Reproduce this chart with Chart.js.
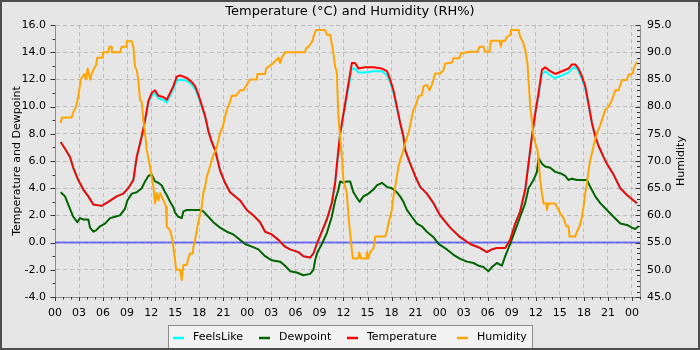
<!DOCTYPE html>
<html>
<head>
<meta charset="utf-8">
<script src="https://cdn.jsdelivr.net/npm/chart.js@4.4.1/dist/chart.umd.min.js"></script>
<style>
  html, body { margin: 0; padding: 0; background: #e6e6e6; }
  #wrap { width: 700px; height: 350px; position: relative; }
  canvas { display: block; }
</style>
</head>
<body>
<div id="wrap"><canvas id="c" width="700" height="350"></canvas></div>
<script>
// ---------- DATA (hours since 00:00 of day 1) ----------
const chartTitle = 'Temperature (°C) and Humidity (RH%)';
const hourTickLabels = ['00','03','06','09','12','15','18','21'];

const tempHours = [0.71,1.25,1.87,2.28,2.91,3.53,4.16,4.78,5.83,6.65,7.70,8.53,9.15,9.78,10.20,10.82,11.24,11.65,12.07,12.48,12.90,13.52,13.95,14.36,14.77,15.19,15.61,16.44,17.07,17.48,17.89,18.31,18.73,19.14,19.56,19.98,20.60,21.22,21.85,22.68,23.10,23.93,24.76,25.59,26.22,27.05,27.88,28.71,29.34,30.37,31.00,31.84,32.25,32.67,33.30,33.92,34.54,34.96,35.24,35.58,36.20,36.62,37.04,37.45,37.87,38.70,39.74,40.79,41.41,41.82,42.23,42.66,43.07,43.48,43.70,44.32,44.94,45.57,46.40,47.23,48.06,49.31,50.56,51.81,53.06,53.90,54.52,55.14,56.18,56.80,57.43,58.05,58.68,59.09,59.51,59.93,60.34,60.76,61.17,61.80,62.42,63.26,64.08,64.50,64.92,65.33,65.76,66.17,66.58,67.00,67.42,67.83,68.45,68.87,69.70,70.54,71.37,72.20,72.62];
const temperature = [7.4,6.9,6.3,5.5,4.6,3.9,3.4,2.8,2.7,3.0,3.4,3.6,4.0,4.6,6.3,7.8,9.0,10.4,11.0,11.2,10.8,10.7,10.5,11.0,11.5,12.2,12.3,12.1,11.8,11.5,10.9,10.1,9.3,8.2,7.4,6.8,5.3,4.4,3.7,3.3,3.1,2.4,2.0,1.5,0.8,0.6,0.2,-0.3,-0.5,-0.7,-1.0,-1.1,-0.8,-0.1,0.8,1.7,2.9,4.4,6.1,8.0,10.2,11.7,13.2,13.2,12.8,12.9,12.9,12.8,12.6,12.0,11.2,10.0,8.8,7.8,6.8,5.8,4.9,4.1,3.6,2.9,2.0,1.1,0.4,-0.1,-0.4,-0.7,-0.5,-0.4,-0.4,0.2,1.4,2.3,3.9,5.8,7.8,9.5,11.0,12.7,12.9,12.6,12.4,12.6,12.8,13.1,13.1,12.8,12.2,11.5,10.2,8.8,7.8,7.1,6.3,5.8,5.0,4.0,3.5,3.1,2.9];
const feelsLike = [7.4,6.9,6.3,5.5,4.6,3.9,3.4,2.8,2.7,3.0,3.4,3.6,4.0,4.6,6.3,7.8,9.0,10.3,10.8,11.0,10.6,10.5,10.3,10.8,11.3,11.9,12.0,11.9,11.6,11.3,10.7,10.0,9.3,8.2,7.4,6.8,5.3,4.4,3.7,3.3,3.1,2.4,2.0,1.5,0.8,0.6,0.2,-0.3,-0.5,-0.7,-1.0,-1.1,-0.8,-0.1,0.8,1.7,2.9,4.4,6.1,8.0,10.0,11.4,12.8,12.8,12.5,12.5,12.6,12.6,12.3,11.8,11.0,9.9,8.8,7.8,6.8,5.8,4.9,4.1,3.6,2.9,2.0,1.1,0.4,-0.1,-0.4,-0.7,-0.5,-0.4,-0.4,0.2,1.4,2.3,3.9,5.8,7.8,9.5,10.8,12.4,12.6,12.3,12.1,12.3,12.5,12.8,12.9,12.6,12.0,11.3,10.1,8.8,7.8,7.1,6.3,5.8,5.0,4.0,3.5,3.1,2.9];

const dewHours = [0.71,1.25,1.66,2.28,2.78,3.12,3.53,4.16,4.37,4.78,5.12,5.62,6.24,6.87,7.49,8.11,8.74,9.03,9.58,10.20,10.82,11.24,11.65,12.07,12.48,12.90,13.32,13.73,13.95,14.36,14.77,14.98,15.39,15.82,16.02,16.44,18.10,18.51,19.14,19.76,20.60,21.44,22.26,22.88,23.72,24.56,25.38,26.22,27.05,28.09,28.71,29.34,30.17,31.00,31.84,32.25,32.46,32.75,33.30,33.92,34.54,34.96,35.37,35.58,35.99,36.42,36.83,37.24,37.67,38.00,38.49,39.11,39.74,40.16,40.79,41.41,42.03,42.66,43.07,43.48,43.91,44.53,45.16,45.78,46.40,47.23,47.85,48.90,49.73,50.56,51.40,52.22,52.85,53.47,54.09,54.52,55.14,55.77,56.18,56.80,57.43,58.05,58.68,59.09,59.71,60.14,60.34,60.76,61.17,61.80,62.42,63.05,63.67,64.08,64.50,65.13,66.38,66.79,67.42,68.04,68.87,69.70,70.54,71.37,71.99,72.41,72.82];
const dewpoint = [3.7,3.4,2.8,1.9,1.5,1.8,1.7,1.7,1.1,0.8,0.9,1.2,1.4,1.8,1.9,2.0,2.5,3.1,3.6,3.7,4.0,4.5,4.9,5.0,4.5,4.4,4.2,3.7,3.5,3.0,2.6,2.2,1.9,1.8,2.3,2.4,2.4,2.3,1.9,1.5,1.1,0.8,0.6,0.3,-0.1,-0.3,-0.5,-1.0,-1.3,-1.4,-1.7,-2.1,-2.2,-2.4,-2.3,-2.0,-1.3,-0.7,-0.1,0.7,1.9,3.1,3.9,4.5,4.4,4.5,4.5,3.7,3.3,3.0,3.4,3.6,3.9,4.2,4.4,4.1,4.0,3.7,3.4,3.0,2.4,1.9,1.4,1.2,0.8,0.4,-0.1,-0.5,-0.9,-1.2,-1.4,-1.5,-1.7,-1.8,-2.1,-1.8,-1.5,-1.7,-1.0,-0.1,0.9,1.9,2.9,4.0,4.6,5.2,6.2,5.8,5.6,5.5,5.2,5.1,4.9,4.6,4.7,4.6,4.6,4.1,3.4,2.9,2.4,1.9,1.4,1.3,1.1,1.0,1.2];

const humHours = [0.71,0.87,2.08,2.28,2.62,2.78,3.03,3.21,3.46,3.66,3.87,4.08,4.37,4.58,4.87,5.12,5.28,5.96,5.97,6.65,6.78,7.08,7.09,8.11,8.33,8.86,8.95,9.58,9.78,9.99,10.20,10.40,10.61,10.82,11.02,11.24,11.45,11.86,12.07,12.27,12.48,12.69,12.90,13.11,13.52,13.86,13.95,14.36,14.57,14.77,14.98,15.11,15.61,15.82,15.94,16.02,16.44,16.64,16.85,17.19,17.27,17.48,17.69,17.89,18.10,18.31,18.51,18.73,18.94,19.35,19.56,19.76,20.19,20.39,20.60,20.94,21.22,21.44,21.64,21.85,22.06,22.60,23.10,23.51,23.93,24.34,25.18,25.26,26.22,26.34,27.25,27.88,28.09,28.30,28.71,29.34,31.21,31.34,31.62,31.92,32.17,32.33,32.58,33.71,33.92,34.33,34.54,34.74,34.96,35.17,35.24,35.37,35.58,35.79,35.99,36.20,36.42,36.62,36.83,37.04,37.17,37.83,37.95,38.20,38.83,38.90,39.11,39.33,39.74,39.95,41.20,41.41,41.61,41.82,42.03,42.23,42.45,42.66,42.86,43.07,43.36,43.70,44.11,44.53,44.73,44.94,45.16,45.36,45.78,45.98,46.40,46.73,47.03,47.44,48.06,48.48,48.69,49.53,49.73,50.47,50.65,51.81,52.72,52.97,53.47,53.68,54.22,54.39,55.47,55.64,55.77,56.18,56.39,56.80,56.89,57.84,58.05,58.39,58.68,58.96,59.09,59.30,59.51,59.71,59.93,60.21,60.34,60.55,60.76,60.96,61.30,61.39,61.55,62.42,62.63,63.05,63.46,63.80,64.08,64.21,64.92,65.13,65.46,65.76,65.96,66.17,66.38,66.58,66.79,67.00,67.29,67.63,68.04,68.38,68.66,69.08,69.50,69.91,70.32,70.75,71.37,71.57,72.12,72.20,72.50,72.62];
const humidity = [77,78,78,79,80,81,83,85,85.5,86,85,87,85,86,87,87.6,89,89,90,90,91,91,90,90,91,91,92,92,91,87.3,86.7,84.9,81.2,80.9,77.5,75.1,72,69,67.1,65.3,62.2,64.1,62.8,64.1,62.8,61.6,57.9,57.3,56.1,54.2,51.8,50,50,48.1,50,50.9,50.9,52.1,53,53,54.2,55.5,57.3,58.8,60.1,61.6,64.1,65.3,67.1,69,70.2,71.1,72.5,73.9,75.1,76.3,78.1,79.4,80,80.9,82,82,83,83,84,85,85,86,86,87,88,89,88,89,90,90,90,90.7,91,91.6,92.2,93.2,94.1,94.1,93.2,93.2,91.6,89.8,87.3,86.4,83,78.1,74.5,70.8,66.5,65.3,64.1,59.8,56.7,53.6,52.1,52.1,53.2,52.1,52.1,53.2,52.1,53.3,53.9,56.1,56.1,57,58.5,59.8,61,63.4,65.3,67.1,69,70.2,71.4,73.3,75.1,78.1,79.4,80,80.9,81.9,82.1,83.7,84,83,84,86.1,86.1,86.7,87.9,88.1,88.9,88.9,89.8,90.1,90.1,91,91,90.1,90.1,92.1,92.1,91,92.1,92.1,92.8,93.2,94.1,94.1,92.8,91.9,90.4,87.9,84.9,80,77.5,74.5,73.3,72,70.2,66.5,64.1,62.2,62.2,61,62.2,62.2,61.6,60.4,59.5,58,58,56.1,56.1,57,58,59.8,61.6,64.1,65.9,68.3,70.2,71.4,73.3,75.1,76.6,78.1,79.4,80,81.2,83,83,84.9,84.9,85.8,86.1,87,87.9,88.2];

const freezingLine = 0;   // reference line on the temperature axis

// ---------- helpers ----------
const pts = (xs, ys) => xs.map((h, i) => ({ x: h, y: ys[i] }));
const FONT = '"DejaVu Sans", "Liberation Sans", sans-serif';

const decor = {
  id: 'decor',
  beforeDraw(chart) {
    const ctx = chart.ctx;
    ctx.save();
    ctx.fillStyle = '#e6e6e6';
    ctx.fillRect(0, 0, chart.width, chart.height);
    ctx.restore();
  },
  beforeDatasetsDraw(chart) {
    const ctx = chart.ctx, a = chart.chartArea, y = chart.scales.y;
    const py = y.getPixelForValue(freezingLine);
    ctx.save();
    ctx.strokeStyle = 'rgba(0,0,255,0.5)';
    ctx.lineWidth = 2;
    ctx.beginPath();
    ctx.moveTo(a.left, py); ctx.lineTo(a.right, py);
    ctx.stroke();
    ctx.restore();
  },
  afterDraw(chart) {
    const ctx = chart.ctx, a = chart.chartArea;
    const sx = chart.scales.x, sy = chart.scales.y, sy1 = chart.scales.y1;
    ctx.save();
    // tick marks (major + minor)
    ctx.strokeStyle = '#333';
    ctx.lineWidth = 1;
    ctx.beginPath();
    for (let h = sx.min; h <= sx.max; h++) {
      const px = Math.round(sx.getPixelForValue(h)) + 0.5;
      const len = h % 3 === 0 ? 4 : 2.5;
      ctx.moveTo(px, a.bottom); ctx.lineTo(px, a.bottom + len);
    }
    for (let v = sy.min; v <= sy.max; v++) {
      const py = Math.round(sy.getPixelForValue(v)) + 0.5;
      const len = v % 2 === 0 ? 4.5 : 2.5;
      ctx.moveTo(a.left - len, py); ctx.lineTo(a.left, py);
    }
    for (let v = sy1.min; v <= sy1.max; v++) {
      const py = Math.round(sy1.getPixelForValue(v)) + 0.5;
      const len = v % 5 === 0 ? 4.5 : 3;
      ctx.moveTo(a.right, py); ctx.lineTo(a.right - len, py);
    }
    ctx.stroke();

    // right axis title (reads bottom to top)
    ctx.save();
    ctx.translate(681, (a.top + a.bottom) / 2);
    ctx.rotate(-Math.PI / 2);
    ctx.font = '11px ' + FONT;
    ctx.fillStyle = '#000';
    ctx.textAlign = 'center';
    ctx.textBaseline = 'middle';
    ctx.fillText('Humidity', 0, 0);
    ctx.restore();

    // legend box
    ctx.fillStyle = '#f2f2f2';
    ctx.fillRect(168.5, 325.5, 364, 24);
    ctx.strokeStyle = '#8c8c8c';
    ctx.lineWidth = 1;
    ctx.strokeRect(168.5, 325.5, 364, 24);
    const items = chart.data.datasets.filter(d => d.legendX !== undefined)
      .sort((p, q) => p.legendX - q.legendX);
    ctx.font = '11px ' + FONT;
    ctx.textBaseline = 'middle';
    ctx.textAlign = 'left';
    items.forEach(d => {
      ctx.strokeStyle = d.borderColor;
      ctx.lineWidth = 2.5;
      ctx.beginPath();
      ctx.moveTo(d.legendX, 338); ctx.lineTo(d.legendX + 11, 338);
      ctx.stroke();
      ctx.fillStyle = '#000';
      ctx.fillText(d.label, d.legendX + 20, 337.5);
    });

    // outer frame
    ctx.strokeStyle = '#4d4d4d';
    ctx.lineWidth = 2;
    ctx.strokeRect(1, 1, chart.width - 2, chart.height - 2);
    ctx.restore();
  }
};

const lineBase = { pointRadius: 0, borderWidth: 2, tension: 0, fill: false, borderJoinStyle: 'round', borderCapStyle: 'butt' };

new Chart(document.getElementById('c'), {
  type: 'line',
  data: {
    datasets: [
      Object.assign({ label: 'Humidity', data: pts(humHours, humidity), borderColor: '#ffa500', yAxisID: 'y1', order: 0, legendX: 457 }, lineBase),
      Object.assign({ label: 'Temperature', data: pts(tempHours, temperature), borderColor: '#ff0000', yAxisID: 'y', order: 1, legendX: 347 }, lineBase),
      Object.assign({ label: 'Dewpoint', data: pts(dewHours, dewpoint), borderColor: '#006400', yAxisID: 'y', order: 2, legendX: 259 }, lineBase),
      Object.assign({ label: 'FeelsLike', data: pts(tempHours, feelsLike), borderColor: '#00ffff', yAxisID: 'y', order: 3, legendX: 173 }, lineBase)
    ]
  },
  options: {
    responsive: false,
    animation: false,
    devicePixelRatio: 1,
    layout: { padding: { left: 0, right: 0, top: 0, bottom: 28 } },
    plugins: {
      legend: { display: false },
      tooltip: { enabled: false },
      title: {
        display: true, text: chartTitle, color: '#000',
        font: { family: FONT, size: 13, weight: 'normal', lineHeight: 1.2 },
        padding: { top: 4, bottom: 5.4 }
      }
    },
    scales: {
      x: {
        type: 'linear', min: 0, max: 73,
        afterFit: s => { s.height = 25; },
        afterBuildTicks: s => { s.ticks = s.ticks.filter(t => t.value % 3 === 0 && t.value <= 72); },
        ticks: {
          stepSize: 3, includeBounds: false, autoSkip: false, maxRotation: 0, padding: 10,
          color: '#000', font: { family: FONT, size: 11 },
          callback: v => hourTickLabels[(v % 24) / 3]
        },
        grid: { color: '#bdbdbd', lineWidth: 1, drawTicks: false },
        border: { display: true, color: '#8c8c8c', width: 1, dash: [4, 3] }
      },
      y: {
        position: 'left', min: -4, max: 16,
        afterFit: s => { s.width = 55; },
        ticks: { stepSize: 2, padding: 9, color: '#000', font: { family: FONT, size: 11 }, callback: v => Number(v).toFixed(1) },
        grid: { color: '#bdbdbd', lineWidth: 1, drawTicks: false },
        border: { display: true, color: '#8c8c8c', width: 1, dash: [4, 3] },
        title: { display: true, text: 'Temperature and Dewpoint', color: '#000', font: { family: FONT, size: 11 }, padding: { top: 10.4, bottom: 0 } }
      },
      y1: {
        position: 'right', min: 45, max: 95,
        afterFit: s => { s.width = 60; },
        ticks: { stepSize: 5, padding: 7, color: '#000', font: { family: FONT, size: 11 }, callback: v => Number(v).toFixed(1) },
        grid: { drawOnChartArea: false, drawTicks: false },
        border: { display: true, color: '#8c8c8c', width: 1 }
      }
    }
  },
  plugins: [decor]
});
</script>
</body>
</html>
